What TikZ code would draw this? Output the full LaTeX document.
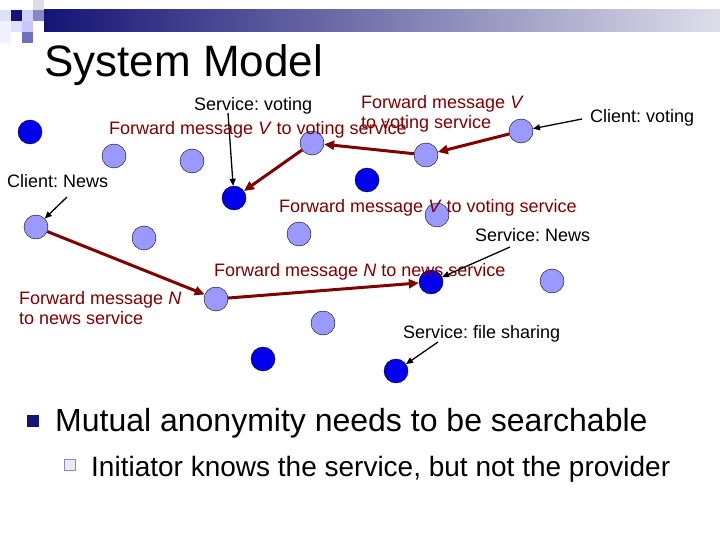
\documentclass[tikz,border=0pt]{standalone}
\usepackage{fontspec}
\setmainfont{Liberation Sans}
\frenchspacing
\usetikzlibrary{arrows.meta}
\definecolor{fwdred}{RGB}{128,0,0}
\definecolor{peerlight}{RGB}{153,153,255}
\definecolor{peerdark}{RGB}{0,0,238}
\definecolor{barnavy}{RGB}{20,20,118}
\definecolor{barpale}{RGB}{222,222,234}
\tikzset{
  peer/.style={circle, draw=black, thin, fill=peerlight, minimum size=24bp, inner sep=0pt},
  provider/.style={peer, fill=peerdark},
  fwdtext/.style={text=fwdred, font=\fontsize{18bp}{20bp}\selectfont, anchor=base west, inner sep=0pt, align=left},
  roletext/.style={text=black, font=\fontsize{18bp}{20bp}\selectfont, anchor=base west, inner sep=0pt},
  fwd/.style={-{Triangle[length=10bp,width=9bp]}, fwdred, line width=3bp},
  pointer/.style={-{Triangle[length=7bp,width=6bp]}, black, line width=1.3bp},
}
\begin{document}
\begin{tikzpicture}[x=1bp, y=-1bp]
  \useasboundingbox (0,0) rectangle (720,540);

  % ==================== header ====================
  \shade[left color=barnavy, right color=barpale] (44,10) rectangle (720,32);
  \fill[black!4!blue!12] (0,10) rectangle (11,21);
  \fill[barnavy] (11,10) rectangle (22,21);
  \fill[blue!18!white] (22,10) rectangle (33,21);
  \fill[blue!35!gray!70] (33,10) rectangle (44,21);
  \fill[blue!10!gray!25] (33,0) rectangle (44,10);
  \fill[blue!12!white] (11,21) rectangle (22,32);
  \fill[blue!22!white] (22,21) rectangle (33,32);
  \fill[blue!40!gray!80] (22,32) rectangle (33,43);
  \fill[blue!6!white] (0,21) rectangle (11,43);
  \node[anchor=base west, inner sep=0pt, font=\fontsize{44bp}{48bp}\selectfont] (title) at (44,77) {System Model};

  % ==================== peers ====================
  % providers (dark)
  \node[provider] (d1) at (30,132) {};
  \node[provider] (svote) at (234,198) {};
  \node[provider] (d3) at (367,180) {};
  \node[provider] (snews) at (431,282) {};
  \node[provider] (d5) at (263,359) {};
  \node[provider] (sfile) at (396,371) {};
  % others (light)
  \node[peer] (l1) at (114,156) {};
  \node[peer] (l2) at (192,161) {};
  \node[peer] (rv1) at (312,143) {};
  \node[peer] (rv2) at (426,155) {};
  \node[peer] (cvote) at (521,131) {};
  \node[peer] (cnews) at (36,227) {};
  \node[peer] (l7) at (144,238) {};
  \node[peer] (l8) at (299,234) {};
  \node[peer] (l9) at (437,215) {};
  \node[peer] (rn1) at (216,299) {};
  \node[peer] (l11) at (323,323) {};
  \node[peer] (l12) at (552,281) {};

  % ==================== labels ====================
  \node[roletext] (svotetext) at (194,111) {Service: voting};
  \node[roletext] (cvotetext) at (590,123) {Client: voting};
  \node[roletext] (cnewstext) at (7,188) {Client: News};
  \node[roletext] (snewstext) at (475,242) {Service: News};
  \node[roletext] (sfiletext) at (403,338) {Service: file sharing};

  % two-line labels sit on the baseline of their last line
  \node[fwdtext] (fv1) at (109,135) {Forward message \textit{V} to voting service};
  \node[fwdtext] (fv2) at (361,129) {Forward message \textit{V}\\to voting service};
  \node[fwdtext] (fv3) at (279,213) {Forward message \textit{V} to voting service};
  \node[fwdtext] (fn1) at (214,277) {Forward message \textit{N} to news service};
  \node[fwdtext] (fn2) at (19,324) {Forward message \textit{N}\\to news service};

  % ==================== forwarding paths ====================
  \draw[fwd] (cvote) -- (rv2);
  \draw[fwd] (rv2) -- (rv1);
  \draw[fwd] (rv1) -- (svote);
  \draw[fwd] (cnews) -- (rn1);
  \draw[fwd] (rn1) -- (snews);

  % pointers from the labels
  \coordinate (svotetail) at (228,113);
  \coordinate (cvotetail) at (582,119);
  \coordinate (cnewstail) at (67,197);
  \coordinate (snewstail) at (510,247);
  \coordinate (sfiletail) at (438,342);
  \draw[pointer] (svotetail) -- (svote);
  \draw[pointer] (cvotetail) -- (cvote);
  \draw[pointer] (cnewstail) -- (cnews);
  \draw[pointer] (snewstail) -- (snews);
  \draw[pointer] (sfiletail) -- (sfile);

  % ==================== bullets ====================
  \fill[barnavy] (27,415) rectangle (39,427);
  \node[anchor=base west, inner sep=0pt, font=\fontsize{32bp}{36bp}\selectfont] (point) at (55,431) {Mutual anonymity needs to be searchable};
  \filldraw[fill=black!8, draw=blue!30!gray!70, thin] (64,459) rectangle (75,470);
  \node[anchor=base west, inner sep=0pt, font=\fontsize{28bp}{32bp}\selectfont] (subpoint) at (91,476) {Initiator knows the service, but not the provider};
\end{tikzpicture}
\end{document}
